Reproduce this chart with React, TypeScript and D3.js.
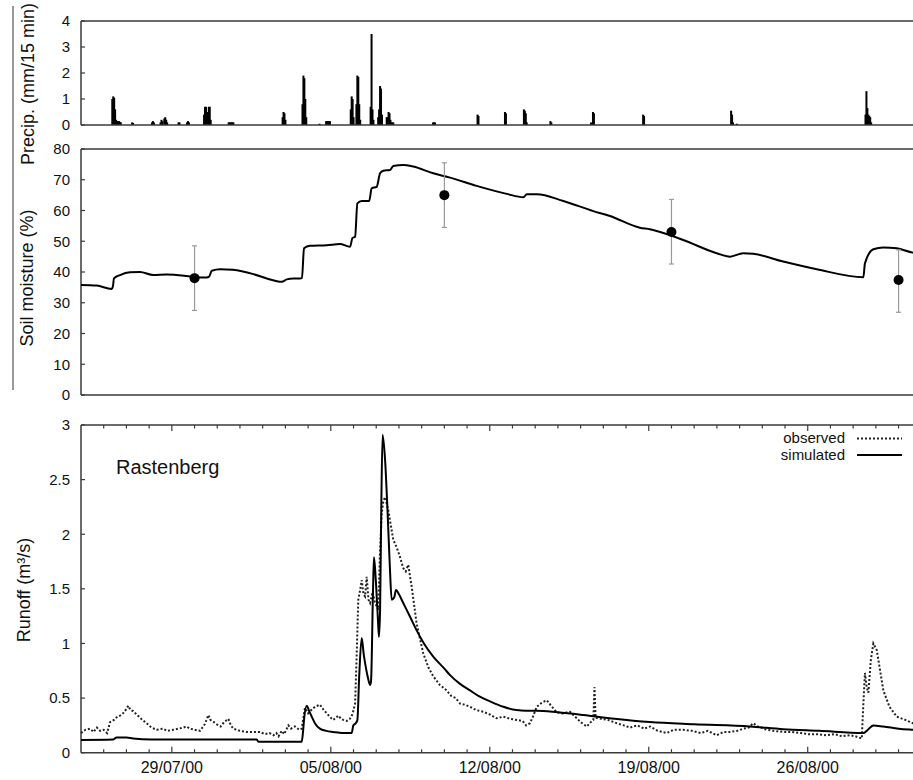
import React from "react";
import * as d3 from "d3";

// ---------- DATA ----------
const START = Date.UTC(2000, 6, 25); // 25/07/2000 00:00 UTC
const END_DAYS = 37;

// precipitation: [hours since START, mm/15 min]
const precipHours = [
  32, 33, 34, 35, 36, 37, 38, 39, 40, 41,
  53, 54,
  74, 75, 76,
  83, 84, 85, 87, 88, 89, 90,
  102, 103,
  111, 112, 113,
  129, 130, 131, 132, 133, 134, 135, 136,
  155, 156, 157, 158, 159, 160,
  212, 213, 214, 215,
  233, 234, 235, 236, 237,
  251,
  258, 259, 260, 261, 262,
  284, 285, 286, 287,
  290, 291, 292, 293, 294,
  305, 306, 307, 308,
  313, 314, 315, 316, 317,
  322, 323, 324, 325, 326, 327, 328, 329,
  371, 372, 373,
  418, 419,
  447, 448,
  467, 468, 469, 470,
  495, 496,
  538, 540, 541,
  593, 594,
  686, 687, 688, 692,
  828, 829, 830, 831, 832, 833, 834,
];
const precipValues = [
  1.0, 1.1, 1.05, 0.6, 0.2, 0.15, 0.15, 0.15, 0.12, 0.1,
  0.1, 0.08,
  0.1, 0.15, 0.1,
  0.1, 0.2, 0.15, 0.25, 0.3, 0.2, 0.1,
  0.1, 0.1,
  0.1, 0.15, 0.1,
  0.4, 0.7, 0.7, 0.3, 0.5, 0.7, 0.7, 0.2,
  0.1, 0.1, 0.1, 0.1, 0.1, 0.1,
  0.3, 0.5, 0.45, 0.2,
  0.8, 1.9, 1.8, 1.0, 0.3,
  0.05,
  0.15, 0.15, 0.15, 0.15, 0.15,
  0.6, 1.1, 1.0, 0.3,
  0.8, 1.9, 1.85, 0.8, 0.2,
  0.7, 3.5, 0.6, 0.2,
  0.3, 0.6, 1.5, 1.4, 0.4,
  0.3, 0.3, 0.5, 0.45, 0.2, 0.1, 0.1, 0.1,
  0.1, 0.1, 0.1,
  0.4, 0.35,
  0.5, 0.45,
  0.6, 0.55, 0.45, 0.1,
  0.15, 0.1,
  0.1, 0.5, 0.45,
  0.4, 0.35,
  0.55, 0.4, 0.1, 0.05,
  0.4, 1.3, 0.65, 0.4, 0.35, 0.3, 0.1,
];

// simulated soil moisture: [days since START, %]
const soilSim: [number, number][] = [
  [0, 35.8], [0.69, 35.6], [1.35, 34.5], [1.41, 35.5], [1.45, 37.9], [1.72, 39], [2.16, 39.9],
  [2.6, 40], [3.18, 39], [3.77, 39.2], [4.65, 38.7], [5.09, 38.3], [5.53, 38.2], [5.64, 38.5],
  [5.76, 40.4], [6.12, 40.9], [6.69, 40.7], [7.59, 39.3], [8.18, 37.9], [8.84, 36.8], [9.06, 37.6],
  [9.35, 37.9], [9.64, 37.9], [9.73, 38.0], [9.82, 47.7], [10.08, 48.5], [10.82, 48.7], [11.4, 49.1],
  [11.85, 48.2], [11.95, 51], [12.07, 51.5], [12.17, 62.3], [12.36, 63.1], [12.69, 63.1],
  [12.8, 67.2], [13.02, 67.7], [13.17, 72.1], [13.31, 72.9], [13.61, 73.2], [13.75, 74.5],
  [14.19, 74.8], [14.63, 74.3], [15.51, 72.1], [16.25, 70.7], [17.42, 68], [18.75, 65.4],
  [19.48, 64.3], [19.63, 65.3], [20.07, 65.3], [21.24, 63.1], [22.56, 59.8], [23.29, 58.2],
  [24.61, 54.4], [25.05, 53.9], [26.52, 50.4], [27.99, 46.1], [28.58, 45], [29.16, 46.1],
  [29.6, 45.9], [30.92, 43.4], [32.4, 40.9], [34.45, 38.3], [34.52, 42.8], [34.89, 47.4],
  [35.33, 48], [35.92, 47.7], [36.63, 46.3], [37, 46.0],
];

// measured soil moisture
const soilObsDays = [5, 16, 26, 36];
const soilObsValues = [38, 65, 53, 37.4];
const soilObsLow = [27.5, 54.5, 42.6, 26.9];
const soilObsHigh = [48.5, 75.5, 63.6, 47.2];

// runoff observed [days, m3/s]
const runoffObserved: [number, number][] = [
  [0, 0.18], [0.2, 0.21], [0.4, 0.22], [0.55, 0.19], [0.7, 0.23], [0.84, 0.2], [1.0, 0.21], [1.15, 0.18],
  [1.28, 0.28], [1.45, 0.3], [1.6, 0.33], [1.72, 0.34], [1.85, 0.36], [2.0, 0.4], [2.08, 0.43], [2.18, 0.39],
  [2.3, 0.38], [2.5, 0.34], [2.7, 0.3], [2.89, 0.27], [3.1, 0.23], [3.33, 0.21], [3.6, 0.22], [3.8, 0.2],
  [4.06, 0.21], [4.3, 0.22], [4.5, 0.23], [4.65, 0.24], [4.8, 0.22], [5.0, 0.21], [5.24, 0.2], [5.45, 0.26],
  [5.61, 0.345], [5.7, 0.3], [5.85, 0.28], [5.98, 0.26], [6.15, 0.24], [6.3, 0.28], [6.49, 0.31], [6.6, 0.25],
  [6.71, 0.22], [7.0, 0.2], [7.3, 0.19], [7.6, 0.19], [7.88, 0.19], [8.1, 0.17], [8.3, 0.18], [8.47, 0.16],
  [8.6, 0.18], [8.7, 0.15], [8.84, 0.2], [8.95, 0.17], [9.13, 0.25], [9.25, 0.22], [9.42, 0.24], [9.6, 0.21],
  [9.72, 0.22], [9.86, 0.41], [10.0, 0.36], [10.08, 0.38], [10.3, 0.42], [10.52, 0.44], [10.65, 0.4],
  [10.82, 0.36], [11.0, 0.32], [11.11, 0.3], [11.33, 0.34], [11.45, 0.31], [11.55, 0.3], [11.7, 0.29],
  [11.84, 0.31], [11.95, 0.35], [12.07, 0.45], [12.14, 0.9], [12.21, 1.4], [12.3, 1.5], [12.36, 1.58],
  [12.44, 1.45], [12.51, 1.43], [12.58, 1.61], [12.66, 1.4], [12.73, 1.37], [12.84, 1.47], [12.95, 1.37],
  [13.09, 1.31], [13.16, 1.8], [13.24, 2.19], [13.31, 2.3], [13.39, 2.34], [13.53, 2.22], [13.75, 1.95],
  [13.9, 1.88], [14.05, 1.79], [14.19, 1.69], [14.3, 1.66], [14.41, 1.72], [14.56, 1.52], [14.78, 1.18],
  [15.07, 0.91], [15.3, 0.78], [15.51, 0.7], [15.8, 0.62], [16.1, 0.57], [16.3, 0.52], [16.5, 0.5],
  [16.69, 0.45], [16.9, 0.44], [17.13, 0.42], [17.4, 0.39], [17.71, 0.375], [18.0, 0.35], [18.3, 0.315],
  [18.6, 0.33], [18.9, 0.31], [19.18, 0.3], [19.45, 0.29], [19.6, 0.25], [19.77, 0.27], [19.9, 0.33],
  [20.07, 0.42], [20.3, 0.46], [20.51, 0.48], [20.7, 0.43], [20.95, 0.37], [21.2, 0.36], [21.53, 0.375],
  [21.7, 0.34], [21.83, 0.315], [22.0, 0.28], [22.27, 0.24], [22.45, 0.28], [22.56, 0.3], [22.61, 0.6],
  [22.66, 0.32], [22.9, 0.31], [23.2, 0.3], [23.59, 0.27], [23.9, 0.25], [24.17, 0.23], [24.5, 0.25],
  [24.8, 0.22], [25.05, 0.24], [25.4, 0.2], [25.79, 0.18], [26.1, 0.21], [26.52, 0.21], [26.9, 0.2],
  [27.3, 0.18], [27.6, 0.2], [27.99, 0.16], [28.3, 0.19], [28.58, 0.19], [28.9, 0.2], [29.16, 0.22],
  [29.4, 0.23], [29.6, 0.27], [29.8, 0.24], [30.19, 0.21], [30.5, 0.2], [30.92, 0.19], [31.3, 0.19],
  [31.7, 0.18], [32.0, 0.17], [32.4, 0.17], [32.8, 0.16], [33.2, 0.17], [33.5, 0.15], [33.86, 0.16],
  [34.1, 0.15], [34.38, 0.13], [34.45, 0.45], [34.52, 0.73], [34.6, 0.6], [34.67, 0.55], [34.78, 0.85],
  [34.89, 1.0], [35.04, 0.94], [35.15, 0.8], [35.33, 0.57], [35.6, 0.42], [35.92, 0.33], [36.3, 0.3],
  [36.63, 0.27], [37, 0.25],
];

// runoff simulated [days, m3/s]
const runoffSimulated: [number, number][] = [
  [0, 0.116], [1.41, 0.12], [1.57, 0.14], [2.01, 0.14], [2.29, 0.13], [3.11, 0.12], [7.74, 0.12],
  [7.81, 0.1], [9.72, 0.1], [9.78, 0.2], [9.82, 0.3], [9.94, 0.43], [10.05, 0.38], [10.16, 0.33],
  [10.3, 0.27], [10.52, 0.22], [10.8, 0.2], [11.11, 0.19], [11.5, 0.18], [11.92, 0.18], [11.99, 0.25],
  [12.1, 0.27], [12.17, 0.3], [12.25, 0.7], [12.36, 1.05], [12.45, 0.9], [12.51, 0.82], [12.62, 0.7],
  [12.73, 0.62], [12.77, 0.65], [12.86, 1.5], [12.9, 1.79], [12.96, 1.65], [12.99, 1.55], [13.08, 1.2],
  [13.12, 1.06], [13.17, 1.31], [13.22, 2.2], [13.28, 2.91], [13.39, 2.68], [13.5, 2.2], [13.6, 1.7],
  [13.68, 1.4], [13.79, 1.42], [13.87, 1.49], [14.0, 1.45], [14.19, 1.37], [14.5, 1.24], [14.78, 1.12],
  [15.1, 1.0], [15.51, 0.88], [16.0, 0.77], [16.25, 0.71], [16.69, 0.63], [17.13, 0.57], [17.5, 0.52],
  [18.01, 0.47], [18.6, 0.42], [19.18, 0.39], [19.6, 0.385], [20.07, 0.385], [21.0, 0.37], [22.12, 0.345],
  [23.5, 0.31], [25.05, 0.28], [27.0, 0.26], [29.46, 0.24], [30.92, 0.215], [32.5, 0.2], [34.45, 0.18],
  [34.6, 0.2], [34.89, 0.25], [35.1, 0.245], [35.33, 0.24], [36.0, 0.22], [36.63, 0.21], [37, 0.205],
];

const precipTicks = [0, 1, 2, 3, 4];
const soilTicks = [0, 10, 20, 30, 40, 50, 60, 70, 80];
const runoffTicks = [0, 0.5, 1, 1.5, 2, 2.5, 3];
const runoffTickLabels = ["0", "0.5", "1", "1.5", "2", "2.5", "3"];
const dateTicks = ["2000-07-29", "2000-08-05", "2000-08-12", "2000-08-19", "2000-08-26"];

// ---------- LAYOUT ----------
const W = 913;
const H = 780;
const X0 = 81;
const PX_PER_DAY = 22.71;
const FONT = "'Liberation Sans', Arial, Helvetica, sans-serif";
const AXIS = "#3a3a3a";

const toDate = (d: number) => new Date(START + d * 864e5);

export default function App() {
  const x = d3
    .scaleUtc()
    .domain([toDate(0), toDate(END_DAYS)])
    .range([X0, X0 + END_DAYS * PX_PER_DAY]);
  const yP = d3.scaleLinear().domain([0, 4]).range([125, 21]);
  const yS = d3.scaleLinear().domain([0, 80]).range([395, 149]);
  const yR = d3.scaleLinear().domain([0, 3]).range([752.7, 425]);
  const right = x.range()[1];

  const soilLine = d3
    .line<[number, number]>()
    .x((d) => x(toDate(d[0])))
    .y((d) => yS(d[1]))
    .curve(d3.curveMonotoneX);
  const rLineObs = d3
    .line<[number, number]>()
    .x((d) => x(toDate(d[0])))
    .y((d) => yR(d[1]));
  const rLineSim = d3
    .line<[number, number]>()
    .x((d) => x(toDate(d[0])))
    .y((d) => yR(d[1]))
    .curve(d3.curveMonotoneX);

  const days = d3.utcDay.range(toDate(0), toDate(END_DAYS + 1));
  const majorSet = new Set(dateTicks.map((s) => new Date(s + "T00:00:00Z").getTime()));

  const tickText = { fontFamily: FONT, fontSize: 15, fill: "#111" } as const;
  const titleText = { fontFamily: FONT, fontSize: 18, fill: "#111" } as const;

  return (
    <svg
      width={W}
      height={H}
      viewBox={`0 0 ${W} ${H}`}
      style={{ position: "absolute", left: 0, top: 0, background: "#fff" }}
    >
      <rect x={0} y={0} width={W} height={H} fill="#fff" />
      {/* left separator line */}
      <line x1={13} x2={13} y1={6} y2={390} stroke="#555" strokeWidth={1.2} />

      {/* ===== Precipitation panel ===== */}
      <g>
        {precipHours.map((h, i) => {
          const t = toDate(h / 24);
          const x1 = x(t);
          const w = Math.max(2, x(toDate((h + 1) / 24)) - x1 + 0.9);
          return (
            <rect
              key={i}
              x={x1}
              y={yP(precipValues[i])}
              width={w}
              height={yP(0) - yP(precipValues[i])}
              fill="#000"
            />
          );
        })}
        <line x1={X0} x2={W} y1={yP(4)} y2={yP(4)} stroke={AXIS} strokeWidth={1.5} />
        <line x1={X0} x2={W} y1={yP(0)} y2={yP(0)} stroke={AXIS} strokeWidth={1.5} />
        <line x1={X0} x2={X0} y1={yP(4)} y2={yP(0)} stroke={AXIS} strokeWidth={1.5} />
        {precipTicks.map((v) => (
          <g key={v}>
            <line x1={X0} x2={X0 + 4} y1={yP(v)} y2={yP(v)} stroke={AXIS} strokeWidth={1.2} />
            <text x={70} y={yP(v)} dy="0.36em" textAnchor="end" {...tickText}>
              {v}
            </text>
          </g>
        ))}
        <text transform={`translate(34, 84) rotate(-90)`} textAnchor="middle" {...titleText}>
          Precip. (mm/15 min)
        </text>
      </g>

      {/* ===== Soil moisture panel ===== */}
      <g>
        <line x1={X0} x2={W} y1={yS(80)} y2={yS(80)} stroke={AXIS} strokeWidth={1.5} />
        <line x1={X0} x2={W} y1={yS(0)} y2={yS(0)} stroke={AXIS} strokeWidth={1.5} />
        <line x1={X0} x2={X0} y1={yS(80)} y2={yS(0)} stroke={AXIS} strokeWidth={1.5} />
        {soilTicks.map((v) => (
          <g key={v}>
            <line x1={X0} x2={X0 + 4} y1={yS(v)} y2={yS(v)} stroke={AXIS} strokeWidth={1.2} />
            <text x={70} y={yS(v)} dy="0.36em" textAnchor="end" {...tickText}>
              {v}
            </text>
          </g>
        ))}
        <path d={soilLine(soilSim) || ""} fill="none" stroke="#000" strokeWidth={2} />
        {soilObsDays.map((d, i) => {
          const cx = x(toDate(d));
          return (
            <g key={i}>
              <line x1={cx} x2={cx} y1={yS(soilObsLow[i])} y2={yS(soilObsHigh[i])} stroke="#999" strokeWidth={1.2} />
              <line x1={cx - 2.5} x2={cx + 2.5} y1={yS(soilObsLow[i])} y2={yS(soilObsLow[i])} stroke="#999" strokeWidth={1.2} />
              <line x1={cx - 2.5} x2={cx + 2.5} y1={yS(soilObsHigh[i])} y2={yS(soilObsHigh[i])} stroke="#999" strokeWidth={1.2} />
              <circle cx={cx} cy={yS(soilObsValues[i])} r={5} fill="#000" />
            </g>
          );
        })}
        <text transform={`translate(33, 278) rotate(-90)`} textAnchor="middle" {...titleText}>
          Soil moisture (%)
        </text>
      </g>

      {/* ===== Runoff panel ===== */}
      <g>
        <line x1={X0} x2={W} y1={yR(3)} y2={yR(3)} stroke={AXIS} strokeWidth={1.5} />
        <line x1={X0} x2={W} y1={yR(0)} y2={yR(0)} stroke={AXIS} strokeWidth={1.5} />
        <line x1={X0} x2={X0} y1={yR(3)} y2={yR(0)} stroke={AXIS} strokeWidth={1.5} />
        {runoffTicks.map((v, i) => (
          <g key={v}>
            <line x1={X0} x2={X0 + 4} y1={yR(v)} y2={yR(v)} stroke={AXIS} strokeWidth={1.2} />
            <text x={70} y={yR(v)} dy="0.36em" textAnchor="end" {...tickText}>
              {runoffTickLabels[i]}
            </text>
          </g>
        ))}
        {days.map((dd) => {
          const xx = x(dd);
          if (xx <= X0 + 0.5 || xx > right) return null;
          const major = majorSet.has(dd.getTime());
          const len = major ? 6 : 3.5;
          return (
            <g key={dd.getTime()}>
              <line x1={xx} x2={xx} y1={yR(0)} y2={yR(0) - len} stroke={AXIS} strokeWidth={1.2} />
              <line x1={xx} x2={xx} y1={yR(3)} y2={yR(3) + len} stroke={AXIS} strokeWidth={1.2} />
            </g>
          );
        })}
        {dateTicks.map((s) => {
          const dt = new Date(s + "T00:00:00Z");
          return (
            <text
              key={s}
              x={x(dt)}
              y={yR(0) + 20}
              textAnchor="middle"
              fontFamily={FONT}
              fontSize={16}
              fill="#111"
            >
              {d3.utcFormat("%d/%m/%y")(dt)}
            </text>
          );
        })}
        <path
          d={rLineObs(runoffObserved) || ""}
          fill="none"
          stroke="#222"
          strokeWidth={2}
          strokeDasharray="2 2"
        />
        <path d={rLineSim(runoffSimulated) || ""} fill="none" stroke="#000" strokeWidth={2} />
        <text x={116} y={474} fontFamily={FONT} fontSize={20} fill="#111">
          Rastenberg
        </text>
        {/* legend */}
        <text x={845} y={443} textAnchor="end" fontFamily={FONT} fontSize={15} fill="#111">
          observed
        </text>
        <line x1={857} x2={902} y1={438.5} y2={438.5} stroke="#222" strokeWidth={2} strokeDasharray="2 2" />
        <text x={845} y={460} textAnchor="end" fontFamily={FONT} fontSize={15} fill="#111">
          simulated
        </text>
        <line x1={857} x2={902} y1={455} y2={455} stroke="#000" strokeWidth={2} />
        <text transform={`translate(30, 590) rotate(-90)`} textAnchor="middle" {...titleText}>
          Runoff (m³/s)
        </text>
      </g>
    </svg>
  );
}
